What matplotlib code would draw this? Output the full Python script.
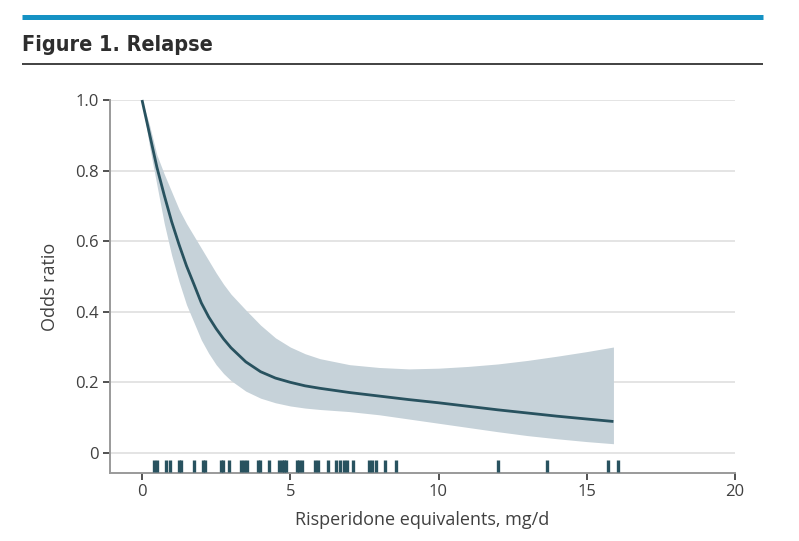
import numpy as np
import matplotlib.pyplot as plt
from matplotlib.lines import Line2D

# dose grid (mg/d risperidone equivalents) and the fitted odds ratio with its 95% band
dose = [0, 0.25, 0.5, 0.75, 1.0, 1.25, 1.5, 1.75, 2.0, 2.25, 2.5, 2.75, 3.0, 3.5,
        4.0, 4.5, 5.0, 5.5, 6.0, 7.0, 8.0, 9.0, 10.0, 11.0, 12.0, 13.0, 14.0, 15.0, 15.9]
odds = [1.0, 0.905, 0.81, 0.73, 0.655, 0.59, 0.53, 0.478, 0.425, 0.385, 0.352, 0.323,
        0.298, 0.258, 0.23, 0.212, 0.2, 0.19, 0.183, 0.171, 0.161, 0.151, 0.142, 0.132,
        0.122, 0.113, 0.104, 0.096, 0.089]
upper = [1.0, 0.93, 0.845, 0.79, 0.74, 0.69, 0.65, 0.615, 0.58, 0.545, 0.51, 0.478,
         0.45, 0.405, 0.362, 0.326, 0.3, 0.281, 0.267, 0.25, 0.242, 0.238, 0.24, 0.245,
         0.252, 0.262, 0.274, 0.287, 0.3]
lower = [1.0, 0.87, 0.76, 0.65, 0.56, 0.485, 0.42, 0.37, 0.32, 0.282, 0.25, 0.225,
         0.205, 0.175, 0.155, 0.142, 0.133, 0.127, 0.123, 0.117, 0.108, 0.096, 0.084,
         0.072, 0.06, 0.049, 0.04, 0.032, 0.026]

# observed doses shown as a rug
rug = [0.42, 0.5, 0.8, 0.95, 1.25, 1.33, 1.75, 2.05, 2.13, 2.65, 2.73, 2.95, 3.35, 3.45,
       3.55, 3.9, 3.97, 4.27, 4.62, 4.72, 4.8, 4.85, 5.22, 5.3, 5.38, 5.85, 5.95, 6.27,
       6.55, 6.67, 6.82, 6.9, 7.1, 7.65, 7.75, 7.88, 8.2, 8.55, 12.0, 13.67, 15.7, 16.05]

xticks = [0, 5, 10, 15, 20]
yticks = [0, 0.2, 0.4, 0.6, 0.8, 1.0]
ytick_labels = ['0', '0.2', '0.4', '0.6', '0.8', '1.0']

text_col = '#404040'
line_col = '#28525f'
band_col = '#c6d2d9'

plt.rcParams['font.family'] = ['Open Sans', 'DejaVu Sans']

fig = plt.figure(figsize=(7.99, 5.41), dpi=100)
ax = fig.add_axes([110 / 799, 68 / 541, 625 / 799, 373 / 541])

ax.fill_between(dose, lower, upper, color=band_col, lw=0, zorder=2)
ax.plot(dose, odds, color=line_col, lw=2, zorder=3, clip_on=False, solid_capstyle='butt')
ax.vlines(rug, -0.054, -0.02, color=line_col, lw=2.4, zorder=3)

ax.set_xlim(-1.08, 20)
ax.set_ylim(-0.057, 1.0)
ax.set_xticks(xticks)
ax.set_yticks(yticks)
ax.set_yticklabels(ytick_labels)
ax.grid(axis='y', color='#e2e2e2', lw=1.3, zorder=0)
ax.set_axisbelow(True)

for s in ['top', 'right']:
    ax.spines[s].set_visible(False)
for s in ['left', 'bottom']:
    ax.spines[s].set_color('#9a9a9a')
    ax.spines[s].set_linewidth(1.4)

ax.tick_params(axis='both', colors='#333333', labelcolor=text_col, labelsize=12,
               length=5, width=1.2)
ax.tick_params(axis='y', pad=3)
ax.tick_params(axis='x', pad=3)

ax.set_xlabel('Risperidone equivalents, mg/d', fontsize=13, color=text_col, labelpad=8)
ax.set_ylabel('Odds ratio', fontsize=13, color=text_col, labelpad=12)

# header: blue rule, title, dark rule
fig.add_artist(Line2D([21.5 / 799, 763 / 799], [1 - 16.5 / 541] * 2, color='#1592c4',
                      lw=3.6, solid_capstyle='butt'))
fig.add_artist(Line2D([21.5 / 799, 763 / 799], [1 - 63.5 / 541] * 2, color='#333333',
                      lw=1.3, solid_capstyle='butt'))
fig.text(22 / 799, 1 - 51 / 541, 'Figure 1. Relapse', fontsize=15.5, fontweight='bold',
         fontstretch='condensed', color='#2e2e2e', va='baseline', ha='left',
         family=['Liberation Sans Narrow', 'DejaVu Sans Condensed', 'DejaVu Sans'])

fig.savefig('out.png', dpi=100)
